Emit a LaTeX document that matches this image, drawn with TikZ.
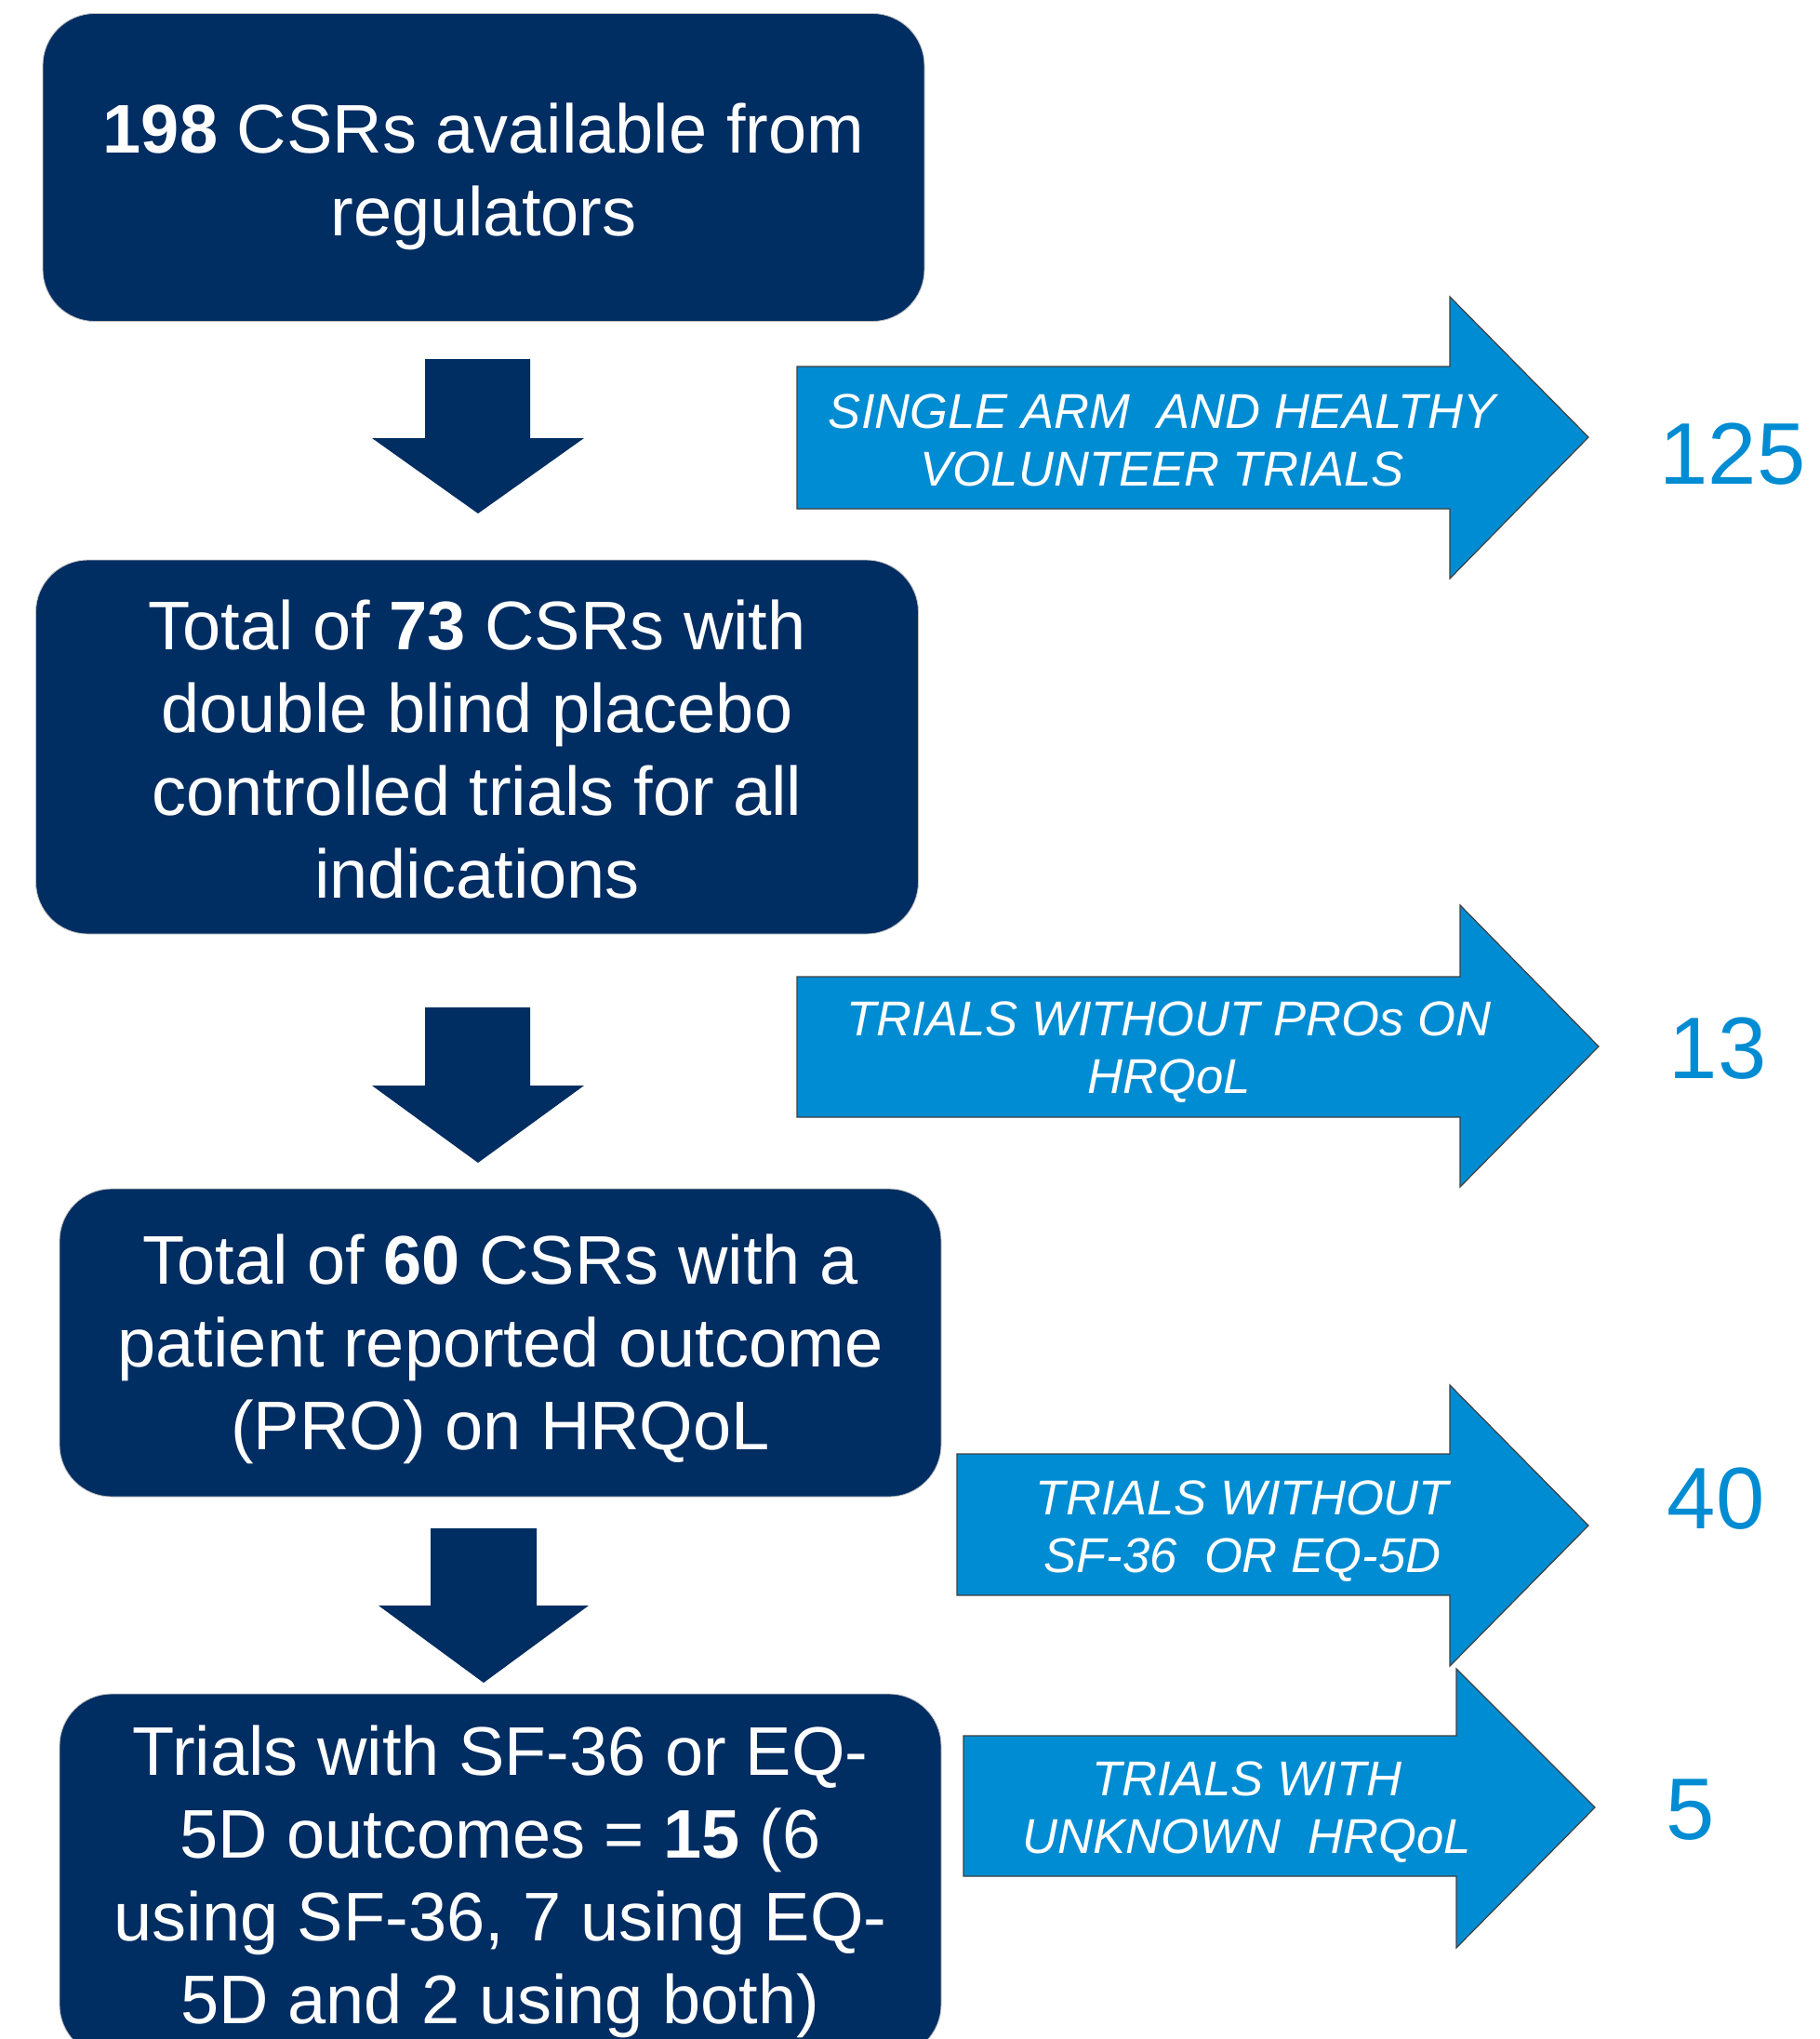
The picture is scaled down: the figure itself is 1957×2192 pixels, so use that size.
\documentclass[tikz,border=0pt]{standalone}
\usepackage{fontspec}
\setmainfont{Liberation Sans}
\definecolor{navy}{RGB}{0,45,98}
\definecolor{sky}{RGB}{0,140,210}
\begin{document}
\begin{tikzpicture}[x=0.5pt,y=-0.5pt,
  box/.style={fill=navy, draw=gray!50, line width=0.4pt, rounded corners=28pt, inner sep=0pt},
  boxtext/.style={text=white, align=center, font=\fontsize{37}{44.5}\selectfont, inner sep=0pt},
  side/.style={fill=sky, draw=black!75, line width=0.6pt},
  sidetext/.style={text=white, align=center, font=\fontsize{26.3}{31}\selectfont\itshape, inner sep=0pt},
  count/.style={text=sky, font=\fontsize{47}{50}\selectfont, inner sep=0pt},
  down/.style={fill=navy}]
\useasboundingbox (0,0) rectangle (1957,2192);
\clip (0,0) rectangle (1957,2192);
\fill[white] (0,0) rectangle (1957,2192);

% main boxes
\node[box, minimum width=474pt, minimum height=165.5pt] (b1) at (520,180) {};
\node[box, minimum width=474.5pt, minimum height=201pt] (b2) at (513,803) {};
\node[box, minimum width=474pt, minimum height=165.5pt] (b3) at (538,1443.5) {};
\node[box, minimum width=474pt, minimum height=195pt] (b4) at (538,2016) {};

\node[boxtext] (l1) at ([yshift=-5pt]b1.center)
  {\textbf{198} CSRs available from\\regulators};
\node[boxtext] (l2) at ([yshift=-1.5pt]b2.center)
  {Total of \textbf{73} CSRs with\\double blind placebo\\controlled trials for all\\indications};
\node[boxtext] (l3) at ([yshift=-3.5pt]b3.center)
  {Total of \textbf{60} CSRs with a\\patient reported outcome\\(PRO) on HRQoL};
\node[boxtext] (l4) at ([yshift=-3.5pt]b4.center)
  {Trials with SF-36 or EQ-\\5D outcomes = \textbf{15} (6\\using SF-36, 7 using EQ-\\5D and 2 using both)};

% down arrows
\fill[down] (457,386) -- (570,386) -- (570,471) -- (628,471) -- (514,552) -- (400,471) -- (457,471) -- cycle;
\fill[down] (457,1083) -- (570,1083) -- (570,1167) -- (628,1167) -- (514,1250) -- (400,1167) -- (457,1167) -- cycle;
\fill[down] (463,1643) -- (577,1643) -- (577,1726) -- (633,1726) -- (520,1809) -- (407,1726) -- (463,1726) -- cycle;

% side arrows
\path[side] (857,394) -- (1559,394) -- (1559,319) -- (1708,470) -- (1559,622) -- (1559,547) -- (857,547) -- cycle;
\path[side] (857,1050) -- (1570,1050) -- (1570,973) -- (1719,1125) -- (1570,1276) -- (1570,1201) -- (857,1201) -- cycle;
\path[side] (1029,1563) -- (1559,1563) -- (1559,1489) -- (1708,1640) -- (1559,1791) -- (1559,1715) -- (1029,1715) -- cycle;
\path[side] (1036,1866) -- (1566,1866) -- (1566,1794) -- (1715,1943) -- (1566,2094) -- (1566,2017) -- (1036,2017) -- cycle;

\node[sidetext] (t1) at (1250,473) {SINGLE ARM\ \ AND HEALTHY\\VOLUNTEER TRIALS};
\node[sidetext] (t2) at (1257,1131) {TRIALS WITHOUT PROs ON\\HRQoL};
\node[sidetext] (t3) at (1336,1646) {TRIALS WITHOUT\\SF-36\ \ OR EQ-5D};
\node[sidetext] (t4) at (1341,1948) {TRIALS WITH\\UNKNOWN\ \ HRQoL};

% counts
\node[count] (c1) at (1863,488) {125};
\node[count] (c2) at (1847,1127) {13};
\node[count] (c3) at (1845,1611) {40};
\node[count] (c4) at (1818,1946) {5};
\end{tikzpicture}
\end{document}
